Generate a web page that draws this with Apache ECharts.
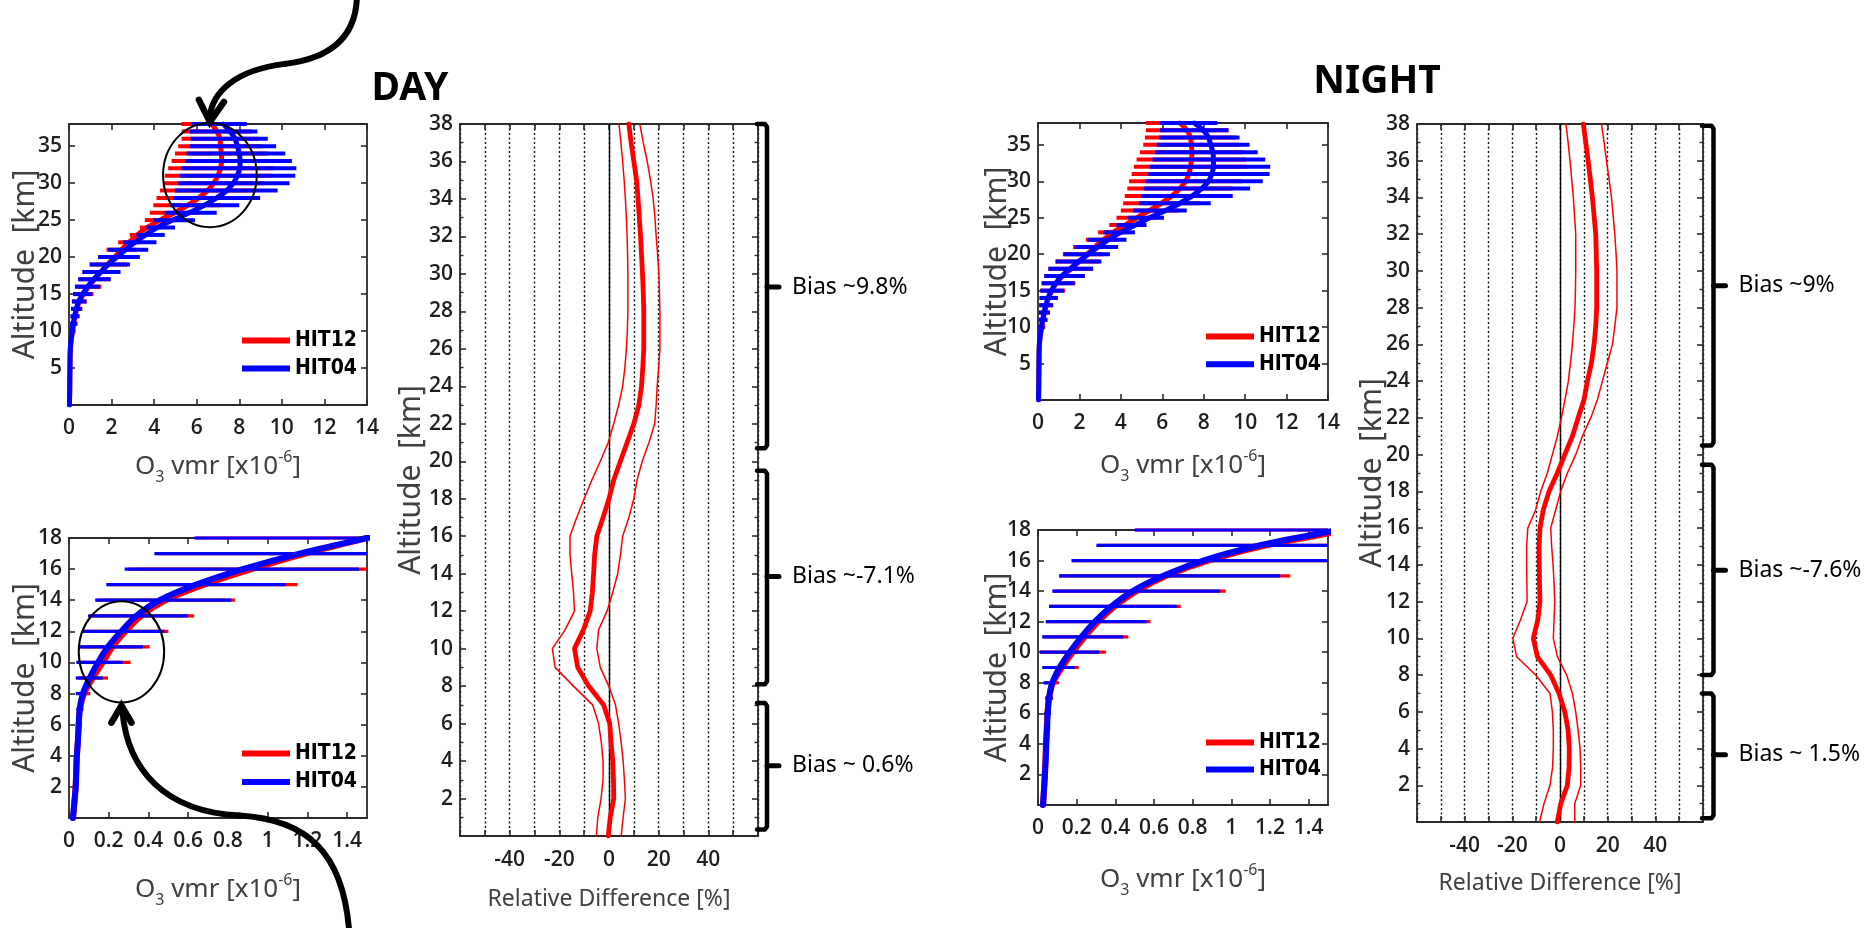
<!DOCTYPE html>
<html><head><meta charset="utf-8">
<script src="https://cdn.jsdelivr.net/npm/echarts@6/dist/echarts.min.js"></script>
<style>html,body{margin:0;padding:0;background:#fff}#c{width:1869px;height:928px}</style>
</head><body><div id="c"></div>
<script>
// ---------------- DATA ----------------
const altitudes = [0,1,2,3,4,5,6,7,8,9,10,11,12,13,14,15,16,17,18,19,20,21,22,23,24,25,26,27,28,29,30,31,32,33,34,35,36,37,38];

// DAY O3 vmr [x1e-6]
const dayHIT04   = [0.020,0.027,0.034,0.037,0.040,0.045,0.049,0.054,0.070,0.104,0.146,0.196,0.263,0.339,0.456,0.640,0.875,1.160,1.500,1.850,2.250,2.650,3.100,3.600,4.150,4.850,5.650,6.350,6.940,7.410,7.720,7.910,8.020,8.040,8.000,7.910,7.800,7.570,7.250];
const dayHIT12   = [0.020,0.027,0.033,0.036,0.039,0.045,0.049,0.055,0.076,0.119,0.170,0.218,0.285,0.363,0.486,0.680,0.920,1.190,1.500,1.810,2.150,2.470,2.820,3.210,3.670,4.270,4.960,5.570,6.090,6.510,6.800,6.990,7.120,7.170,7.160,7.120,7.090,6.950,6.710];
const dayHIT04Lo = [0.015,0.020,0.026,0.028,0.030,0.033,0.035,0.037,0.034,0.034,0.037,0.054,0.070,0.096,0.132,0.188,0.280,0.430,0.630,0.970,1.370,1.840,2.540,3.170,3.640,3.960,4.500,4.740,4.900,4.980,5.130,5.210,5.290,5.450,5.530,5.680,5.710,5.680,5.760];
const dayHIT04Hi = [0.025,0.034,0.042,0.046,0.050,0.057,0.063,0.070,0.087,0.170,0.270,0.372,0.480,0.600,0.817,1.090,1.460,1.960,2.420,2.860,3.330,3.720,4.110,4.500,4.980,5.920,6.940,8.000,8.980,9.800,10.360,10.630,10.680,10.470,10.160,9.730,9.340,8.850,8.350];
const dayHIT12Lo = [0.016,0.021,0.027,0.029,0.031,0.034,0.036,0.039,0.040,0.045,0.045,0.060,0.080,0.105,0.140,0.200,0.300,0.450,0.640,0.980,1.380,1.760,2.310,2.860,3.330,3.560,3.800,3.960,4.110,4.270,4.430,4.500,4.660,4.820,4.980,5.130,5.290,5.290,5.290];
const dayHIT12Hi = [0.025,0.034,0.041,0.045,0.049,0.057,0.063,0.073,0.107,0.196,0.310,0.406,0.500,0.630,0.835,1.150,1.520,1.950,2.380,2.720,3.000,3.180,3.330,3.560,4.000,5.000,6.100,7.200,8.100,8.750,9.150,9.500,9.600,9.500,9.350,9.100,8.900,8.600,8.100];

// NIGHT O3 vmr [x1e-6]
const nightHIT04   = [0.026,0.031,0.036,0.040,0.043,0.047,0.050,0.057,0.074,0.112,0.164,0.225,0.294,0.380,0.490,0.648,0.855,1.150,1.550,1.970,2.420,2.900,3.400,4.000,4.700,5.400,6.150,6.850,7.450,7.900,8.230,8.390,8.470,8.470,8.440,8.340,8.230,7.980,7.550];
const nightHIT12   = [0.026,0.031,0.035,0.0385,0.041,0.045,0.049,0.057,0.077,0.124,0.180,0.242,0.311,0.397,0.510,0.665,0.880,1.180,1.600,1.990,2.370,2.760,3.160,3.630,4.220,4.770,5.380,5.960,6.460,6.850,7.130,7.280,7.360,7.410,7.430,7.400,7.360,7.200,6.850];
const nightHIT04Lo = [0.018,0.021,0.024,0.027,0.029,0.031,0.033,0.038,0.029,0.022,0.009,0.022,0.040,0.057,0.074,0.109,0.173,0.302,0.500,0.850,1.240,1.770,2.420,3.150,3.790,4.350,4.600,4.870,5.000,5.110,5.210,5.320,5.400,5.530,5.650,5.730,5.840,5.890,5.890];
const nightHIT04Hi = [0.034,0.041,0.048,0.053,0.057,0.063,0.067,0.076,0.086,0.190,0.316,0.441,0.562,0.717,0.942,1.253,1.770,2.260,2.660,3.060,3.470,3.870,4.270,4.680,5.240,6.080,7.180,8.340,9.400,10.240,10.850,11.180,11.210,10.970,10.610,10.210,9.730,9.190,8.660];
const nightHIT12Lo = [0.018,0.021,0.024,0.027,0.029,0.031,0.033,0.038,0.035,0.030,0.012,0.025,0.042,0.060,0.078,0.112,0.178,0.306,0.505,0.850,1.200,1.700,2.310,2.900,3.440,3.790,4.000,4.110,4.190,4.310,4.400,4.520,4.630,4.760,4.920,5.080,5.160,5.210,5.210];
const nightHIT12Hi = [0.034,0.041,0.047,0.052,0.056,0.062,0.066,0.078,0.109,0.211,0.351,0.467,0.582,0.738,0.971,1.305,1.800,2.250,2.620,2.950,3.200,3.450,3.900,4.300,5.000,5.750,6.800,7.800,8.700,9.400,9.850,10.050,10.100,10.050,9.950,9.700,9.550,9.200,8.450];

// Relative difference [%]
const dayRelMean = [-0.3,0.5,1.9,1.8,1.5,0.8,0.3,-2.2,-8.2,-12.6,-13.9,-10.3,-7.6,-6.7,-6.2,-5.8,-4.9,-2.4,0.0,1.9,4.6,7.3,10.0,12.0,13.1,13.6,14.0,14.0,14.0,13.8,13.5,13.1,12.7,12.2,11.7,11.1,10.0,8.9,8.0];
const dayRelLo   = [-5.1,-4.5,-3.2,-2.4,-2.4,-3.1,-4.2,-6.6,-14.3,-21.7,-22.8,-17.7,-13.9,-14.3,-15.0,-15.7,-15.7,-13.0,-10.0,-6.9,-3.5,-0.3,1.9,3.9,5.5,6.4,7.0,7.4,7.6,7.6,7.6,7.5,7.3,7.0,6.6,6.1,5.5,4.8,4.0];
const dayRelHi   = [4.9,5.7,6.6,6.2,5.7,4.9,3.9,2.6,-0.1,-3.5,-4.9,-4.2,-0.8,1.5,3.5,4.6,5.5,8.0,10.0,11.3,13.4,16.1,18.4,19.0,19.4,20.0,20.5,20.5,20.5,20.3,20.1,19.6,19.0,18.5,17.8,16.7,15.4,13.8,12.4];
const nightRelMean = [-1.1,0.3,3.1,3.8,3.9,3.4,2.0,-0.4,-3.9,-9.5,-11.2,-9.3,-8.4,-8.6,-8.7,-8.8,-8.4,-7.0,-4.6,-1.1,2.0,5.2,7.6,10.1,11.5,13.2,14.3,15.0,15.4,15.4,15.4,15.2,15.0,14.3,13.6,12.7,11.8,10.8,9.8];
const nightRelLo   = [-8.6,-6.7,-4.2,-3.1,-2.8,-2.8,-3.2,-4.2,-10.2,-18.2,-19.8,-16.6,-13.8,-13.9,-14.0,-14.0,-13.5,-10.2,-8.1,-5.3,-3.2,-1.1,0.6,2.1,3.5,4.4,5.2,5.8,6.3,6.5,6.6,6.6,6.6,6.1,5.6,4.9,4.2,3.4,2.5];
const nightRelHi   = [6.2,6.2,8.7,8.7,8.4,7.6,6.6,5.2,2.8,-1.1,-2.8,-2.5,-2.2,-2.5,-2.9,-3.5,-3.9,-1.8,0.3,3.1,6.6,9.4,12.9,15.7,17.8,19.9,22.0,23.0,23.9,23.9,23.9,23.5,23.0,22.3,21.6,20.6,19.5,18.5,17.4];

// Bias annotations: altitude ranges [top, bottom, middle] in km
const dayBiasLabels   = ['Bias ~9.8%', 'Bias ~-7.1%', 'Bias ~ 0.6%'];
const dayBiasRanges   = [[38.0, 20.7, 29.3], [19.5, 8.1, 13.85], [7.1, 0.35, 3.75]];
const nightBiasLabels = ['Bias ~9%', 'Bias ~-7.6%', 'Bias ~ 1.5%'];
const nightBiasRanges = [[37.9, 20.5, 29.2], [19.45, 8.0, 13.7], [7.0, 0.2, 3.66]];

// Highlight circles (data units of the O3 panels)
const dayTopCircle = {x: 6.62, y: 31.1, rx: 2.2, ry: 7.05};
const dayLowCircle = {x: 0.264, y: 10.68, rx: 0.215, ry: 3.26};

const seriesNames = ['HIT12', 'HIT04'];

// ---------------- STYLE / LAYOUT ----------------
const RED = '#ff0000', BLUE = '#0000ff', FRAME = '#2a2a2a';
const FONT = '"Noto Sans", "DejaVu Sans", sans-serif';
const TICKFONT = '"Open Sans", "Noto Sans", sans-serif';
const NARROW = '"Liberation Sans Narrow", "DejaVu Sans Condensed", "Roboto Condensed", "Liberation Sans", sans-serif';

const chart = echarts.init(document.getElementById('c'), null, {renderer: 'canvas', width: 1869, height: 928});

const gridBoxes = [
  {left: 69,   top: 124, width: 298, height: 281},  // day O3 full
  {left: 69,   top: 538, width: 298, height: 280},  // day O3 low
  {left: 460,  top: 124, width: 298, height: 712},  // day rel diff
  {left: 1038, top: 123, width: 290, height: 277},  // night O3 full
  {left: 1038, top: 530, width: 290, height: 275},  // night O3 low
  {left: 1417, top: 124, width: 286, height: 698}   // night rel diff
];
const grids = gridBoxes.map(g => Object.assign({show: false, containLabel: false, outerBoundsMode: 'none'}, g));
const xNameGaps = [44, 54, 52, 48, 57, 50];
const yNameGaps = [29, 29, 34, 26, 26, 30];

const o3Name = '{a|O}{s|3}{a| vmr [x10}{p|-6}{a|]}';
const o3NameStyle = {
  color: '#404040', fontFamily: FONT, fontSize: 26,
  rich: {
    a: {fontSize: 26, color: '#404040', fontFamily: FONT, lineHeight: 36},
    s: {fontSize: 16, color: '#404040', fontFamily: FONT, lineHeight: 16, verticalAlign: 'bottom'},
    p: {fontSize: 16, color: '#404040', fontFamily: FONT, lineHeight: 16, verticalAlign: 'top'}
  }
};

const kinds = ['o3top', 'o3low', 'rel', 'o3top', 'o3low', 'rel'];
const xSpec = {
  o3top: {min: 0, max: 14, interval: 2, margin: 13, name: o3Name, nameStyle: o3NameStyle},
  o3low: {min: 0, max: 1.5, interval: 0.2, margin: 13, showMax: false, name: o3Name, nameStyle: o3NameStyle},
  rel:   {min: -60, max: 60, interval: 10, margin: 14, split: true,
          fmt: v => (Math.abs(v) < 60 && Math.round(v) % 20 === 0) ? String(Math.round(v)) : '',
          name: 'Relative Difference [%]',
          nameStyle: {color: '#404040', fontFamily: FONT, fontSize: 23}}
};
const ySpec = {
  o3top: {min: 0, max: 38, interval: 5, margin: 7, showMin: false, showMax: false, name: 'Altitude  [km]'},
  o3low: {min: 0, max: 18, interval: 2, margin: 7, showMin: false, name: 'Altitude  [km]'},
  rel:   {min: 0, max: 38, interval: 2, margin: 7, minor: 2, showMin: false, name: 'Altitude  [km]'}
};

function mkAxis(dim, gi, spec, mirror, gap) {
  const a = {
    type: 'value', gridIndex: gi, min: spec.min, max: spec.max, interval: spec.interval,
    position: dim === 'x' ? (mirror ? 'top' : 'bottom') : (mirror ? 'right' : 'left'),
    axisLine: {show: true, onZero: false, lineStyle: {color: FRAME, width: 1.8}},
    axisTick: {show: true, inside: true, length: 6, lineStyle: {color: FRAME, width: 1.6}},
    minorTick: {show: !!spec.minor, splitNumber: spec.minor || 5, length: 3.5, lineStyle: {color: FRAME, width: 1.4}},
    splitLine: {show: !!spec.split && !mirror, lineStyle: {color: '#111', width: 1.4, type: [2, 2.5]}},
    minorSplitLine: {show: false},
    axisLabel: mirror ? {show: false} : {
      show: true, margin: spec.margin, color: '#1e1e1e', fontFamily: TICKFONT, fontSize: 21, fontWeight: 600,
      showMinLabel: spec.showMin !== false, showMaxLabel: spec.showMax !== false,
      formatter: spec.fmt
    },
    silent: true
  };
  if (!mirror && spec.name) {
    a.name = spec.name;
    a.nameLocation = 'middle';
    a.nameGap = gap;
    a.nameMoveOverlap = false;
    a.nameRotate = dim === 'y' ? 90 : 0;
    a.nameTextStyle = spec.nameStyle || {color: '#404040', fontFamily: FONT, fontSize: 30};
  }
  return a;
}

const xAxes = [], yAxes = [];
kinds.forEach((k, gi) => {
  xAxes.push(mkAxis('x', gi, xSpec[k], false, xNameGaps[gi]));
  xAxes.push(mkAxis('x', gi, xSpec[k], true));
  yAxes.push(mkAxis('y', gi, ySpec[k], false, yNameGaps[gi]));
  yAxes.push(mkAxis('y', gi, ySpec[k], true));
});

// ---------------- SERIES ----------------
function barSeries(name, lo, hi, color, gi, width, z) {
  return {
    type: 'custom', name: name, xAxisIndex: gi * 2, yAxisIndex: gi * 2, z: z, silent: true,
    data: altitudes.map((a, i) => [lo[i], hi[i], a]),
    encode: {x: [0, 1], y: 2},
    renderItem: function (params, api) {
      const cs = params.coordSys;
      const y = api.coord([0, api.value(2)])[1];
      if (y < cs.y - 0.5 || y > cs.y + cs.height + 0.5) return null;
      let x1 = api.coord([api.value(0), 0])[0];
      let x2 = api.coord([api.value(1), 0])[0];
      const xa = cs.x, xb = cs.x + cs.width;
      x1 = Math.max(xa, Math.min(xb, x1));
      x2 = Math.max(xa, Math.min(xb, x2));
      return {type: 'line', shape: {x1: x1, y1: y, x2: x2, y2: y},
              style: {stroke: color, lineWidth: width, lineCap: 'butt'}};
    }
  };
}
function profSeries(name, vals, color, xi, yi, width, z, smooth) {
  return {
    type: 'line', name: name, xAxisIndex: xi, yAxisIndex: yi, z: z, silent: true,
    data: altitudes.map((a, i) => [vals[i], a]),
    symbol: 'none', showSymbol: false, smooth: smooth, clip: true,
    lineStyle: {color: color, width: width, cap: 'round', join: 'round'},
    itemStyle: {color: color}
  };
}

const series = [];
function addO3(gi, d, barW, lineW) {
  series.push(barSeries(seriesNames[0] + ' spread', d.r12lo, d.r12hi, RED, gi, barW, 2));
  series.push(profSeries(seriesNames[0], d.r12, RED, gi * 2, gi * 2, lineW, 3, 0.3));
  series.push(barSeries(seriesNames[1] + ' spread', d.r04lo, d.r04hi, BLUE, gi, barW, 4));
  series.push(profSeries(seriesNames[1], d.r04, BLUE, gi * 2, gi * 2, lineW, 5, 0.3));
}
const dayO3 = {r12: dayHIT12, r12lo: dayHIT12Lo, r12hi: dayHIT12Hi, r04: dayHIT04, r04lo: dayHIT04Lo, r04hi: dayHIT04Hi};
const nightO3 = {r12: nightHIT12, r12lo: nightHIT12Lo, r12hi: nightHIT12Hi, r04: nightHIT04, r04lo: nightHIT04Lo, r04hi: nightHIT04Hi};
addO3(0, dayO3, 4, 5);
addO3(1, dayO3, 3.2, 6);
addO3(3, nightO3, 4, 5);
addO3(4, nightO3, 3.2, 6);

function addRel(gi, mean, lo, hi) {
  const s1 = profSeries('lower', lo, RED, gi * 2, gi * 2, 1.5, 3, false);
  s1.markLine = {silent: true, symbol: ['none', 'none'], label: {show: false},
                 lineStyle: {color: '#000', width: 1.4, type: 'solid'}, data: [{xAxis: 0}], z: 2};
  series.push(s1);
  series.push(profSeries('upper', hi, RED, gi * 2, gi * 2, 1.5, 3, false));
  series.push(profSeries('mean', mean, RED, gi * 2, gi * 2, 4.8, 4, false));
}
addRel(2, dayRelMean, dayRelLo, dayRelHi);
addRel(5, nightRelMean, nightRelLo, nightRelHi);

// ---------------- LEGENDS ----------------
function mkLegend(left, top, gap) {
  return {
    orient: 'vertical', left: left, top: top, itemGap: gap, itemWidth: 48, itemHeight: 6,
    selectedMode: false, padding: 0,
    data: seriesNames.map(n => ({name: n, icon: 'rect'})),
    textStyle: {fontFamily: NARROW, fontWeight: 'bold', fontSize: 21, lineHeight: 20, color: '#000', padding: [0, 0, 0, 0]}
  };
}
const legends = [mkLegend(242, 330, 7), mkLegend(242, 743, 7.4), mkLegend(1206, 326, 6.7), mkLegend(1206, 732, 6)];

chart.setOption({
  animation: false,
  backgroundColor: '#ffffff',
  grid: grids, xAxis: xAxes, yAxis: yAxes, series: series, legend: legends
});

// ---------------- ANNOTATIONS ----------------
function txt(text, x, y, size, weight, align) {
  return {type: 'text', x: x, y: y, silent: true, z: 50,
    style: {text: text, fill: '#000', fontFamily: FONT, fontSize: size, fontWeight: weight,
            align: align, textAlign: align, verticalAlign: 'middle', textVerticalAlign: 'middle'}};
}
const els = [];
els.push(txt('DAY', 410, 89, 39, 'bold', 'center'));
els.push(txt('NIGHT', 1377, 82, 39, 'bold', 'center'));

function brackets(xi, ranges, labels, off) {
  const P = v => chart.convertToPixel({xAxisIndex: xi, yAxisIndex: xi}, v);
  const xr = P([60, 0])[0];
  ranges.forEach((r, i) => {
    const yT = P([0, r[0]])[1], yB = P([0, r[1]])[1], yM = P([0, r[2]])[1];
    const x0 = xr - 1, x1 = xr + off, x2 = x1 + 12;
    els.push({type: 'polyline', silent: true, z: 50,
      shape: {points: [[x0, yT], [x1 - 2, yT], [x1, yT + 3], [x1, yB - 3], [x1 - 2, yB], [x0, yB]]},
      style: {stroke: '#000', lineWidth: 4.5, fill: null, lineJoin: 'round', lineCap: 'round'}});
    els.push({type: 'line', silent: true, z: 50, shape: {x1: x1, y1: yM, x2: x2, y2: yM},
      style: {stroke: '#000', lineWidth: 5, lineCap: 'round'}});
    els.push(txt(labels[i], x2 + 13, yM, 23, 'normal', 'left'));
  });
}
brackets(4, dayBiasRanges, dayBiasLabels, 9);
brackets(10, nightBiasRanges, nightBiasLabels, 10.5);

function ellipse(xi, c) {
  const P = v => chart.convertToPixel({xAxisIndex: xi, yAxisIndex: xi}, v);
  const p = P([c.x, c.y]), q = P([c.x + c.rx, c.y + c.ry]);
  const e = {cx: p[0], cy: p[1], rx: Math.abs(q[0] - p[0]), ry: Math.abs(p[1] - q[1])};
  els.push({type: 'ellipse', silent: true, z: 60, shape: e,
    style: {stroke: '#000', lineWidth: 2, fill: 'transparent'}});
  return e;
}
const eTop = ellipse(0, dayTopCircle);
const eLow = ellipse(2, dayLowCircle);

const ARROW = {stroke: '#000', lineWidth: 6, fill: null, lineCap: 'round', lineJoin: 'round'};
function bez(T, a, c1, c2, b) {
  return {type: 'bezierCurve', silent: true, z: 70,
    shape: {x1: T[0] + a[0], y1: T[1] + a[1], cpx1: T[0] + c1[0], cpy1: T[1] + c1[1],
            cpx2: T[0] + c2[0], cpy2: T[1] + c2[1], x2: T[0] + b[0], y2: T[1] + b[1]},
    style: Object.assign({}, ARROW)};
}
// top arrow, pointing at the upper circle
const T = [eTop.cx, eTop.cy - eTop.ry - 1];
els.push(bez(T, [147, -130], [148, -89], [125, -64], [75, -58]));
els.push(bez(T, [75, -58], [25, -52], [2, -29], [0, -5]));
els.push({type: 'polyline', silent: true, z: 70,
  shape: {points: [[T[0] - 11, T[1] - 22], [T[0], T[1]], [T[0] + 14, T[1] - 20]]},
  style: Object.assign({}, ARROW, {lineWidth: 6.5, lineJoin: 'miter'})});
// bottom arrow, pointing at the lower circle
const B = [eLow.cx, eLow.cy + eLow.ry + 3];
els.push(bez(B, [1, 6], [6, 64], [43, 106], [118, 110]));
els.push(bez(B, [118, 110], [183, 114], [223, 144], [228, 230]));
els.push({type: 'polyline', silent: true, z: 70,
  shape: {points: [[B[0] - 10, B[1] + 17], [B[0], B[1]], [B[0] + 10, B[1] + 17]]},
  style: Object.assign({}, ARROW, {lineWidth: 6.5, lineJoin: 'miter'})});

chart.setOption({graphic: {elements: els}});
</script>
</body></html>
